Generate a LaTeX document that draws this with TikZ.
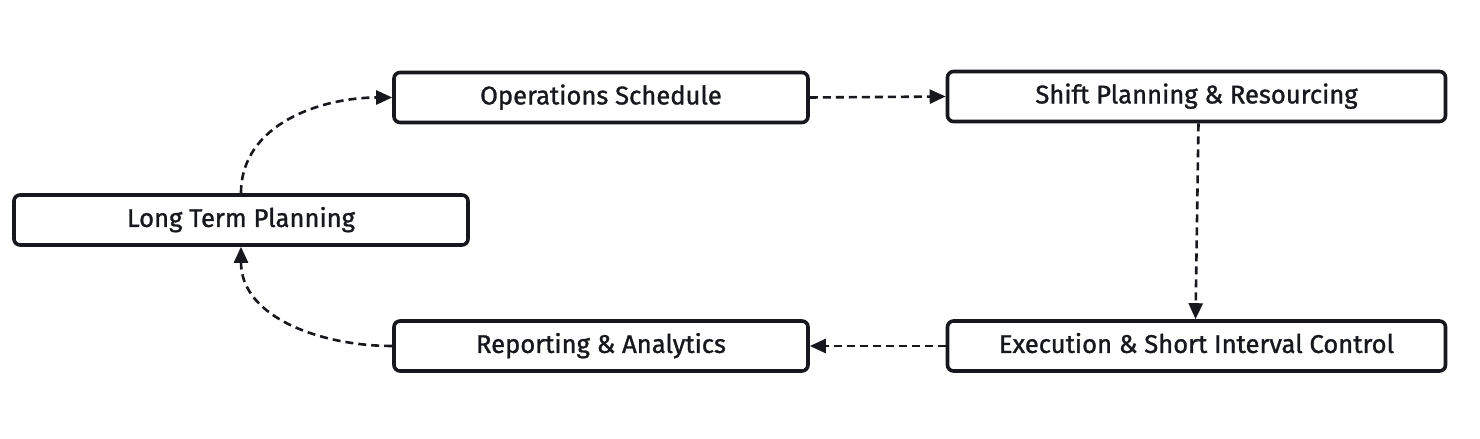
\documentclass[tikz,border=0pt]{standalone}
\usepackage{fontspec}
\setmainfont{Fira Sans}
\newfontfamily\stagefont{Fira Sans}[BoldFont=Fira Sans,BoldFeatures={FakeBold=1.2}]
\usetikzlibrary{arrows.meta}
\definecolor{inkdark}{HTML}{16181D}

\begin{document}
\begin{tikzpicture}[x=0.5pt,y=0.5pt,
    stagebox/.style={draw=inkdark,line width=1.8pt,rounded corners=3pt,fill=white,
        minimum height=25pt,inner sep=0pt,text height=0.69em,text depth=0pt,
        font=\stagefont\bfseries\fontsize{12.8}{14}\selectfont,text=inkdark},
    flow/.style={draw=inkdark,line width=1.3pt,dash pattern=on 4pt off 2.5pt,
        -{Triangle[length=8pt,width=7pt]}}]
    \useasboundingbox (0,0) rectangle (1480,439);

    \node[stagebox,minimum width=227pt] (ltp) at (241,219) {Long Term Planning};
    \node[stagebox,minimum width=207pt] (ops) at (601,341.5) {Operations Schedule};
    \node[stagebox,minimum width=249pt] (shift) at (1196.5,342.5) {Shift Planning \& Resourcing};
    \node[stagebox,minimum width=207pt] (rep) at (601,93) {Reporting \& Analytics};
    \node[stagebox,minimum width=249pt] (exe) at (1196.5,93) {Execution \& Short Interval Control};

    \draw[flow] (ltp.north) to[out=90,in=180] (ops.west);
    \draw[flow] (ops.east) -- (shift.west);
    \draw[flow] ([xshift=1pt]shift.south) -- ([xshift=-0.5pt]exe.north);
    \draw[flow] (exe.west) -- (rep.east);
    \draw[flow] (rep.west) to[out=180,in=-90] (ltp.south);
\end{tikzpicture}
\end{document}
